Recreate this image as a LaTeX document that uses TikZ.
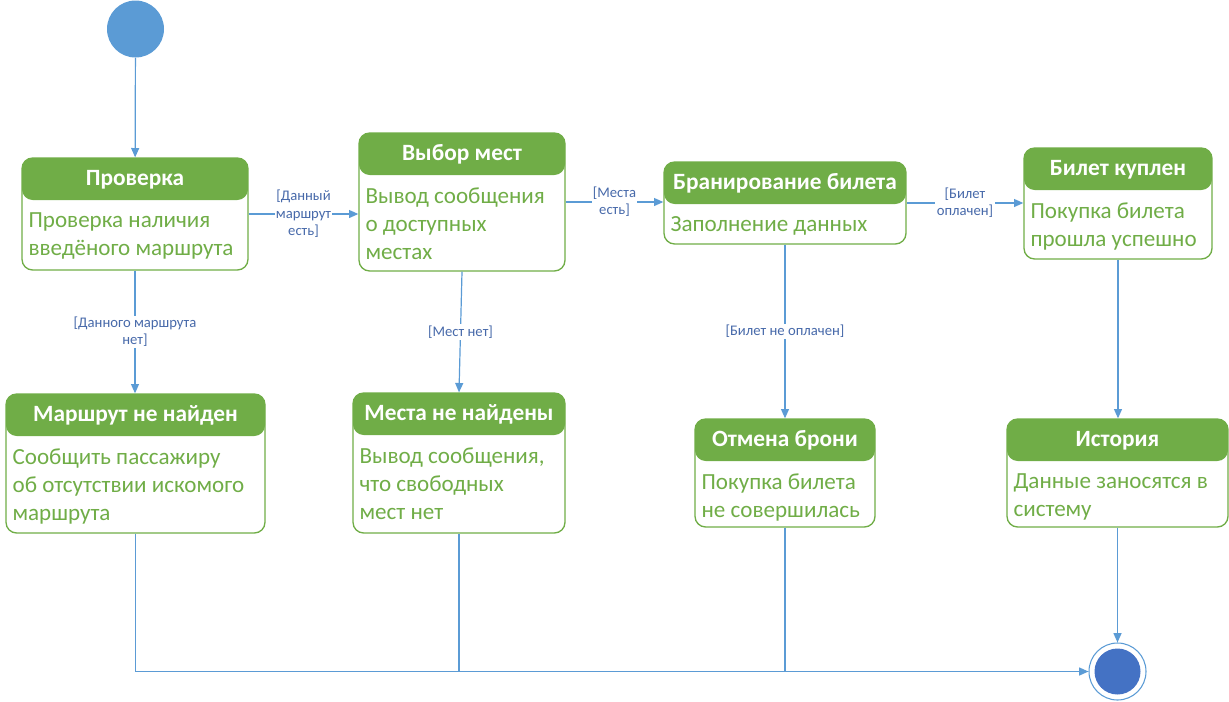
\documentclass[tikz,border=0pt]{standalone}
\usepackage{fontspec}
\setmainfont{Carlito}
\usetikzlibrary{arrows.meta, positioning, calc, fit}
\definecolor{hdrgreen}{RGB}{112,173,71}
\definecolor{txtgreen}{RGB}{112,173,71}
\definecolor{lineblue}{RGB}{91,155,213}
\definecolor{endblue}{RGB}{68,114,196}
\definecolor{lblblue}{RGB}{72,106,170}

\begin{document}
\begin{tikzpicture}[x=0.75pt, y=-0.75pt,
  statebox/.style={draw=hdrgreen, line width=1pt, rounded corners=8pt, inner sep=0pt,
    path picture={\fill[hdrgreen] (path picture bounding box.north west) rectangle ([yshift=-31.5pt]path picture bounding box.north east);}},
  head/.style={font=\fontsize{17.5}{20}\selectfont\bfseries, text=white, inner sep=0pt, anchor=base},
  body/.style={font=\fontsize{17.3}{21}\selectfont, text=txtgreen, align=left, inner sep=0pt, anchor=north west},
  arr/.style={-{Triangle[length=7pt, width=6pt]}, line width=0.9pt, draw=lineblue},
  wire/.style={line width=0.9pt, draw=lineblue},
  lbl/.style={font=\fontsize{11}{13}\selectfont, text=lblblue, fill=white, align=center, inner sep=1pt}
]
\useasboundingbox (0,0) rectangle (1229,701);

% ── initial and final states ──
\node[circle, fill=lineblue, minimum size=42.75pt, inner sep=0pt] (start) at (135.5,29) {};
\node[circle, draw=lineblue, line width=0.8pt, minimum size=42.75pt, inner sep=0pt] (fin) at (1117.5,671.5) {};
\node[circle, fill=endblue, minimum size=34.5pt, inner sep=0pt] (fincore) at (fin.center) {};

% ── upper row ──
\node[statebox, fit={(22,158) (248,270)}] (chk) {};
\node[head] (chk-t) at ($(chk.north)+(0,28)$) {Проверка};
\node[body] (chk-b) at ($(chk.north west)+(7,55)$) {Проверка наличия\\введёного маршрута};

\node[statebox, fit={(359,133) (565,271)}] (sel) {};
\node[head] (sel-t) at ($(sel.north)+(0,28)$) {Выбор мест};
\node[body] (sel-b) at ($(sel.north west)+(7,55)$) {Вывод сообщения\\о доступных\\местах};

\node[statebox, fit={(664,162) (906,244)}] (bron) {};
\node[head] (bron-t) at ($(bron.north)+(0,28)$) {Бранирование билета};
\node[body] (bron-b) at ($(bron.north west)+(7,55)$) {Заполнение данных};

\node[statebox, fit={(1024,148) (1212,259)}] (bought) {};
\node[head] (bought-t) at ($(bought.north)+(0,28)$) {Билет куплен};
\node[body] (bought-b) at ($(bought.north west)+(7,55)$) {Покупка билета\\прошла успешно};

% ── lower row ──
\node[statebox, fit={(6,394) (265,533)}] (noroute) {};
\node[head] (noroute-t) at ($(noroute.north)+(0,28)$) {Маршрут не найден};
\node[body] (noroute-b) at ($(noroute.north west)+(7,55)$) {Сообщить пассажиру\\об отсутствии искомого\\маршрута};

\node[statebox, fit={(353,393) (565,533)}] (noseat) {};
\node[head] (noseat-t) at ($(noseat.north)+(0,28)$) {Места не найдены};
\node[body] (noseat-b) at ($(noseat.north west)+(7,55)$) {Вывод сообщения,\\что свободных\\мест нет};

\node[statebox, fit={(695,419) (875,527)}] (cancel) {};
\node[head] (cancel-t) at ($(cancel.north)+(0,28)$) {Отмена брони};
\node[body] (cancel-b) at ($(cancel.north west)+(7,55)$) {Покупка билета\\не совершилась};

\node[statebox, fit={(1007,419) (1228,527)}] (hist) {};
\node[head] (hist-t) at ($(hist.north)+(0,28)$) {История};
\node[body] (hist-b) at ($(hist.north west)+(7,55)$) {Данные заносятся в\\систему};

% ── transitions ──
\draw[arr] (start) -- (chk);
\draw[arr] (chk.east) -- node[lbl] {[Данный\\маршрут\\есть]} (chk.east -| sel.west);
\draw[arr] (sel.east) -- node[lbl] {[Места\\есть]} (sel.east -| bron.west);
\draw[arr] (bron.east) -- node[lbl] {[Билет\\оплачен]} (bron.east -| bought.west);
\draw[arr] (chk.south) -- node[lbl] {[Данного маршрута\\нет]} (chk.south |- noroute.north);
\draw[arr] (sel.south) -- node[lbl] {[Мест нет]} (noseat.north);
\draw[arr] (bron.south) -- node[lbl] {[Билет не оплачен]} (bron.south |- cancel.north);
\draw[arr] (bought.south) -- (bought.south |- hist.north);
\draw[arr] (hist.south) -- (hist.south |- fin.north);

% ── to the final state ──
\draw[arr] (noroute.south) |- (fin.west);
\draw[wire] (noseat.south) -- (noseat.south |- fin.west);
\draw[wire] (cancel.south) -- (cancel.south |- fin.west);
\end{tikzpicture}
\end{document}
